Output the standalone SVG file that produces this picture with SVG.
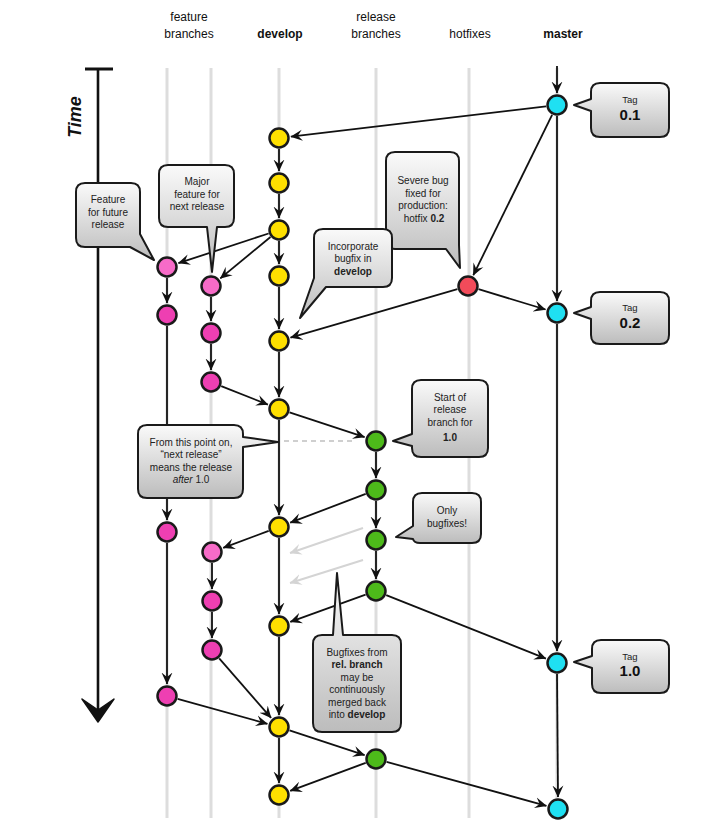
<svg xmlns="http://www.w3.org/2000/svg" width="718" height="837" viewBox="0 0 718 837">
<defs>
<style>
.lane{stroke:#dddddd;stroke-width:3;fill:none}
.hdr{font-family:"Liberation Sans",Arial,sans-serif;font-size:12px;fill:#111;text-anchor:middle}
.b{font-weight:bold}
.e{stroke:#111;stroke-width:1.8;fill:none;marker-end:url(#ah)}
.eg{stroke:#d4d4d4;stroke-width:2;fill:none;marker-end:url(#ahg)}
.co{fill:url(#cg);stroke:#1a1a1a;stroke-width:2;stroke-linejoin:round}
.ct{font-family:"Liberation Sans",Arial,sans-serif;font-size:10px;fill:#222;text-anchor:middle}
.tag{font-family:"Liberation Sans",Arial,sans-serif;font-size:9.5px;fill:#222;text-anchor:middle}
.tv{font-family:"Liberation Sans",Arial,sans-serif;font-size:15px;font-weight:bold;fill:#111;text-anchor:middle}
.n{stroke:#1a1a1a;stroke-width:2.5}
.dev{fill:#FFE000}
.pk{fill:#F0209E}
.pk1{fill:#F76BC8}
.pk2{fill:#EE3FB2}
.rel{fill:#4DBA1A}
.hot{fill:#F24B5A}
.mst{fill:#1FE0F2}
</style>
<linearGradient id="cg" x1="0" y1="0" x2="0" y2="1">
<stop offset="0" stop-color="#fafafa"/>
<stop offset="1" stop-color="#bcbcbc"/>
</linearGradient>
<marker id="ah" viewBox="0 0 12 12" refX="11.5" refY="6" markerWidth="12" markerHeight="12" markerUnits="userSpaceOnUse" orient="auto">
<path d="M0,0.5 L12,6 L0,11.5 L4.5,6 Z" fill="#111"/>
</marker>
<marker id="ahg" viewBox="0 0 12 12" refX="11.5" refY="6" markerWidth="12" markerHeight="12" markerUnits="userSpaceOnUse" orient="auto">
<path d="M0,0.5 L12,6 L0,11.5 L4.5,6 Z" fill="#d4d4d4"/>
</marker>
</defs>
<rect width="718" height="837" fill="#ffffff"/>

<g id="headers">
<text class="hdr" x="189" y="21">feature</text>
<text class="hdr" x="189" y="38">branches</text>
<text class="hdr b" x="280" y="38">develop</text>
<text class="hdr" x="376" y="21">release</text>
<text class="hdr" x="376" y="38">branches</text>
<text class="hdr" x="470" y="38">hotfixes</text>
<text class="hdr b" x="563" y="38">master</text>
</g>

<g id="lanes">
<line class="lane" x1="167" y1="68" x2="167" y2="818"/>
<line class="lane" x1="211" y1="68" x2="211" y2="818"/>
<line class="lane" x1="279" y1="68" x2="279" y2="818"/>
<line class="lane" x1="376" y1="68" x2="376" y2="818"/>
<line class="lane" x1="469" y1="68" x2="469" y2="818"/>
<line class="lane" x1="557" y1="68" x2="557" y2="818"/>
</g>

<g id="time-axis">
<line x1="85" y1="69" x2="113" y2="69" stroke="#111" stroke-width="3"/>
<line x1="98" y1="69" x2="98" y2="712" stroke="#111" stroke-width="2.6"/>
<path d="M82,699 L98,722 L114,699 L98,710 Z" fill="#111" stroke="#111" stroke-width="1.5" stroke-linejoin="round"/>
<text x="0" y="0" transform="translate(81,117) rotate(-90)" font-family="Liberation Sans,Arial,sans-serif" font-size="18" font-weight="bold" font-style="italic" fill="#111" text-anchor="middle">Time</text>
</g>

<g id="connectors">
<line class="e" x1="557" y1="66" x2="557" y2="93"/>
<line class="e" x1="546.1" y1="106.3" x2="290.9" y2="136.6"/>
<line class="e" x1="552.1" y1="114.9" x2="473.3" y2="275.2"/>
<line class="e" x1="557" y1="116" x2="557" y2="301"/>
<line class="e" x1="478.5" y1="289.2" x2="545.5" y2="309.5"/>
<line class="e" x1="457.4" y1="289.1" x2="290.5" y2="337.6"/>
<line class="e" x1="279" y1="149" x2="279" y2="171"/>
<line class="e" x1="279" y1="194" x2="279" y2="218"/>
<line class="e" x1="279" y1="241" x2="279" y2="264"/>
<line class="e" x1="279" y1="287" x2="279" y2="329"/>
<line class="e" x1="279" y1="352" x2="279" y2="397"/>
<line class="e" x1="279" y1="420" x2="279" y2="515"/>
<line class="e" x1="279" y1="538" x2="279" y2="614"/>
<line class="e" x1="279" y1="637" x2="279" y2="715"/>
<line class="e" x1="279" y1="738" x2="279" y2="783"/>
<line class="e" x1="268.6" y1="233.5" x2="178.4" y2="263.2"/>
<line class="e" x1="270.5" y1="237" x2="220.3" y2="278.4"/>
<line class="e" x1="167" y1="278" x2="167" y2="303"/>
<line class="e" x1="167" y1="326" x2="167" y2="520"/>
<line class="e" x1="167" y1="543" x2="167" y2="684"/>
<line class="e" x1="211" y1="297" x2="211" y2="321"/>
<line class="e" x1="211" y1="344" x2="211" y2="370"/>
<line class="e" x1="221.2" y1="386.1" x2="267.9" y2="404.6"/>
<line class="e" x1="289.5" y1="412.4" x2="364.6" y2="437.2"/>
<line class="e" x1="376" y1="452" x2="376" y2="478"/>
<line class="e" x1="376" y1="501" x2="376" y2="528"/>
<line class="e" x1="376" y1="551" x2="376" y2="579"/>
<line class="e" x1="365.7" y1="493.9" x2="290.2" y2="522.7"/>
<line class="e" x1="268.7" y1="530.9" x2="223.2" y2="547.8"/>
<line class="e" x1="212" y1="563" x2="212" y2="589"/>
<line class="e" x1="212" y1="612" x2="212" y2="638"/>
<line class="e" x1="365.6" y1="594.7" x2="290.3" y2="621.9"/>
<line class="e" x1="386.2" y1="595.1" x2="545.9" y2="658.6"/>
<line class="e" x1="557" y1="324" x2="557" y2="651"/>
<line class="e" x1="219.2" y1="658.3" x2="271.1" y2="717.9"/>
<line class="e" x1="177.6" y1="698.9" x2="267.4" y2="723.8"/>
<line class="e" x1="289.5" y1="730.4" x2="364.6" y2="755.2"/>
<line class="e" x1="365.7" y1="762.8" x2="290.2" y2="790.8"/>
<line class="e" x1="386.6" y1="761.9" x2="546.4" y2="805.8"/>
<line class="e" x1="557" y1="674" x2="558" y2="797"/>
<line class="eg" x1="363" y1="528" x2="290" y2="553"/>
<line class="eg" x1="363" y1="560" x2="290" y2="583"/>
<line x1="284" y1="441" x2="354" y2="441" stroke="#cfcfcf" stroke-width="2" stroke-dasharray="5,4"/>
</g>

<g id="node-master-0.1"><circle class="n mst" cx="557" cy="105" r="9.5"/></g>
<g id="node-master-0.2"><circle class="n mst" cx="557" cy="313" r="9.5"/></g>
<g id="node-master-1.0"><circle class="n mst" cx="557" cy="663" r="9.5"/></g>
<g id="node-master-4"><circle class="n mst" cx="558" cy="809" r="9.5"/></g>
<g id="node-hotfix-0.2"><circle class="n hot" cx="468" cy="286" r="9.5"/></g>
<g id="node-dev-1"><circle class="n dev" cx="279" cy="138" r="9.5"/></g>
<g id="node-dev-2"><circle class="n dev" cx="279" cy="183" r="9.5"/></g>
<g id="node-dev-3"><circle class="n dev" cx="279" cy="230" r="9.5"/></g>
<g id="node-dev-4"><circle class="n dev" cx="279" cy="276" r="9.5"/></g>
<g id="node-dev-5"><circle class="n dev" cx="279" cy="341" r="9.5"/></g>
<g id="node-dev-6"><circle class="n dev" cx="279" cy="409" r="9.5"/></g>
<g id="node-dev-7"><circle class="n dev" cx="279" cy="527" r="9.5"/></g>
<g id="node-dev-8"><circle class="n dev" cx="279" cy="626" r="9.5"/></g>
<g id="node-dev-9"><circle class="n dev" cx="279" cy="727" r="9.5"/></g>
<g id="node-dev-10"><circle class="n dev" cx="279" cy="795" r="9.5"/></g>
<g id="node-rel-1"><circle class="n rel" cx="376" cy="441" r="9.5"/></g>
<g id="node-rel-2"><circle class="n rel" cx="376" cy="490" r="9.5"/></g>
<g id="node-rel-3"><circle class="n rel" cx="376" cy="540" r="9.5"/></g>
<g id="node-rel-4"><circle class="n rel" cx="376" cy="591" r="9.5"/></g>
<g id="node-rel-5"><circle class="n rel" cx="376" cy="759" r="9.5"/></g>
<g id="node-feat1-1"><circle class="n pk1" cx="167" cy="267" r="9.5"/></g>
<g id="node-feat1-2"><circle class="n pk2" cx="167" cy="315" r="9.5"/></g>
<g id="node-feat1-3"><circle class="n pk2" cx="167" cy="532" r="9.5"/></g>
<g id="node-feat1-4"><circle class="n pk2" cx="167" cy="696" r="9.5"/></g>
<g id="node-feat2-1"><circle class="n pk1" cx="211" cy="286" r="9.5"/></g>
<g id="node-feat2-2"><circle class="n pk2" cx="211" cy="333" r="9.5"/></g>
<g id="node-feat2-3"><circle class="n pk2" cx="211" cy="382" r="9.5"/></g>
<g id="node-feat2-4"><circle class="n pk1" cx="212" cy="552" r="9.5"/></g>
<g id="node-feat2-5"><circle class="n pk2" cx="212" cy="601" r="9.5"/></g>
<g id="node-feat2-6"><circle class="n pk2" cx="212" cy="650" r="9.5"/></g>

<g id="callout-tag-0.1">
<path class="co" d="M600,83 H660 Q669,83 669,92 V128 Q669,137 660,137 H600 Q591,137 591,128 V111 L574,105 L591,99 V92 Q591,83 600,83 Z"/>
<text class="tag" x="630" y="103">Tag</text>
<text class="tv" x="630" y="120">0.1</text>
</g>
<g id="callout-tag-0.2">
<path class="co" d="M600,292 H660 Q669,292 669,301 V335 Q669,344 660,344 H600 Q591,344 591,335 V319 L574,313 L591,307 V301 Q591,292 600,292 Z"/>
<text class="tag" x="630" y="311">Tag</text>
<text class="tv" x="630" y="328">0.2</text>
</g>
<g id="callout-tag-1.0">
<path class="co" d="M601,640 H660 Q669,640 669,649 V684 Q669,693 660,693 H601 Q592,693 592,684 V668 L574,662 L592,656 V649 Q592,640 601,640 Z"/>
<text class="tag" x="630" y="660">Tag</text>
<text class="tv" x="630" y="676">1.0</text>
</g>
<g id="callout-future">
<path class="co" d="M85,183 H131 Q140,183 140,192 V234 L154,260 L130,247 H85 Q76,247 76,238 V192 Q76,183 85,183 Z"/>
<text class="ct" x="108" y="203">Feature</text>
<text class="ct" x="108" y="216">for future</text>
<text class="ct" x="108" y="228">release</text>
</g>
<g id="callout-major">
<path class="co" d="M168,165 H225 Q234,165 234,174 V218 Q234,227 225,227 H217 L212,272 L207,227 H168 Q159,227 159,218 V174 Q159,165 168,165 Z"/>
<text class="ct" x="197" y="185">Major</text>
<text class="ct" x="197" y="198">feature for</text>
<text class="ct" x="197" y="210">next release</text>
</g>
<g id="callout-severe">
<path class="co" d="M395,152 H450 Q459,152 459,161 V245 L460,268 L446,249 H395 Q386,249 386,240 V161 Q386,152 395,152 Z"/>
<text class="ct" x="423" y="184">Severe bug</text>
<text class="ct" x="423" y="197">fixed for</text>
<text class="ct" x="423" y="209">production:</text>
<text class="ct" x="424" y="222">hotfix <tspan class="b">0.2</tspan></text>
</g>
<g id="callout-incorporate">
<path class="co" d="M323,229 H383 Q392,229 392,238 V278 Q392,287 383,287 H326 L300,318 L314,278 V238 Q314,229 323,229 Z"/>
<text class="ct" x="353" y="250">Incorporate</text>
<text class="ct" x="353" y="262">bugfix in</text>
<text class="ct b" x="353" y="275">develop</text>
</g>
<g id="callout-next-release">
<path class="co" d="M147,425 H234 Q243,425 243,434 V437 L278,442 L243,447 V489 Q243,498 234,498 H147 Q138,498 138,489 V434 Q138,425 147,425 Z"/>
<text class="ct" x="191" y="446">From this point on,</text>
<text class="ct" x="191" y="458">“next release”</text>
<text class="ct" x="191" y="471">means the release</text>
<text class="ct" x="191" y="483"><tspan font-style="italic">after</tspan> 1.0</text>
</g>
<g id="callout-start-release">
<path class="co" d="M421,380 H479 Q488,380 488,389 V448 Q488,457 479,457 H421 Q412,457 412,448 V446 L393,441 L412,434 V389 Q412,380 421,380 Z"/>
<text class="ct" x="450" y="401">Start of</text>
<text class="ct" x="450" y="413">release</text>
<text class="ct" x="450" y="426">branch for</text>
<text class="ct b" x="450" y="441" font-size="12.5">1.0</text>
</g>
<g id="callout-only-bugfixes">
<path class="co" d="M422,493 H472 Q481,493 481,502 V534 Q481,543 472,543 H420 Q414,543 413,539 L396,537 L413,526 V502 Q413,493 422,493 Z"/>
<text class="ct" x="447" y="514">Only</text>
<text class="ct" x="447" y="527">bugfixes!</text>
</g>
<g id="callout-bugfixes-merged">
<path class="co" d="M322,635 H333 L337,573 L343,635 H392 Q401,635 401,644 V723 Q401,732 392,732 H322 Q313,732 313,723 V644 Q313,635 322,635 Z"/>
<text class="ct" x="357" y="656">Bugfixes from</text>
<text class="ct b" x="357" y="668">rel. branch</text>
<text class="ct" x="357" y="681">may be</text>
<text class="ct" x="357" y="693">continuously</text>
<text class="ct" x="357" y="706">merged back</text>
<text class="ct" x="357" y="718">into <tspan class="b">develop</tspan></text>
</g>
</svg>
